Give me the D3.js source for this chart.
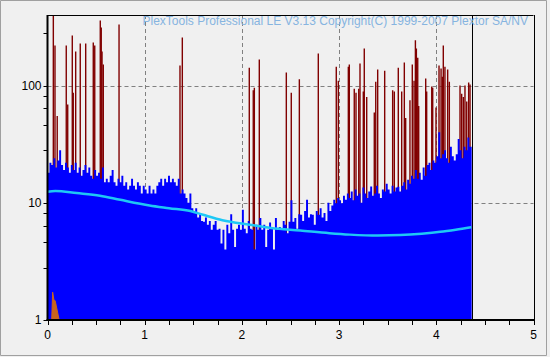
<!DOCTYPE html>
<html><head><meta charset="utf-8">
<script src="https://cdn.jsdelivr.net/npm/d3@7"></script>
<style>body{margin:0;background:#f0f0f0;} svg{display:block}</style>
</head><body><svg id="c" width="550" height="357"></svg>
<script>
const xTicks=[0,1,2,3,4,5];
const xMinorTicks=[0.25,0.5,0.75,1.25,1.5,1.75,2.25,2.5,2.75,3.25,3.5,3.75,4.25,4.5,4.75];
const yLabelTicks=[1,10,100];
const yMinorTicks=[2.8,4.6,6.4,8.2,28,46,64,82,280];
const titleText="PlexTools Professional LE V3.13 Copyright(C) 1999-2007 Plextor SA/NV";
const dataEnd=4.364;
const blueStep=0.02;
const blueValues=[
18,22,21,24,20, 23,28,21,19,22, 20,18,21,19,22, 18,20,17,19,21, 18,20,17,16,19,
17,18,16,20,15, 16,15,17,19,15, 14,16,15,17,14, 15,13,14,16,14, 13,15,14,12,14,
13,12,14,12,13, 12,14,15,16,14, 16,15,17,15,16, 15,14,16,12,13, 12,11,10,12,9,
8.5,9,7.5,8,7, 6.9,7.5,6.5,7,5.9, 6.5,7,5.9,6,4.5, 5.9,4,6.5,5.5,8, 5.9,4.2,6,6.5,5.9,
8.7,6,5.5,7,6, 5.9,4,6.5,5.9,7.4, 5.9,6.5,4.2,5.9,6.8, 6,4,7.4,5.9,6.2, 5.9,7,6.5,5.5,6.9,
10.5,6.9,7.4,6,8, 7.9,7,8.5,10.6,7.5, 8,7.9,6.5,8.5,7.9, 9,7.5,8.2,7,10, 8.5,9.5,10.6,9.9,11,
10.5,9.9,11.5,10.6,12, 11,12.5,10.5,13,11.5, 12,10,13.5,12,11, 12.5,13.8,11.5,12,14, 12,11,13,12.5,14.5,
13,12,14,12.5,13.5, 13.7,12.5,14,15,13, 15.7,14.5,17,16,19, 16,18,15.7,20,17, 21,22,19,23,22,
25,40,24,26,28, 24,22,30,25,23, 26,35,28,24,30, 28,36,30
];
const redX=[0.06,0.077,0.10,0.193,0.208,0.255,0.265,0.29,0.337,0.393,0.471,0.486,0.543,0.553,0.561,0.574,0.736,1.363,1.387,
2.076,2.117,2.128,2.179,2.457,2.508,2.591,2.786,2.971,2.992,3.095,3.105,3.156,3.174,3.202,3.215,3.249,3.259,3.284,
3.362,3.377,3.397,3.469,3.551,3.568,3.609,3.644,3.671,3.685,3.729,3.753,3.771,3.785,3.795,3.809,3.819,3.891,3.901,
3.953,3.963,3.997,4.028,4.049,4.062,4.072,4.089,4.117,4.134,4.244,4.261,4.278,4.295,4.313,4.333,4.347];
const redValues=[420,220,55,220,69,267,87,195,228,228,233,220,359,313,195,151,332,148,257,
142,91,96,167,129,87,113,188,145,110,145,151,94,87,94,154,89,207,80,
59,108,137,134,91,89,142,89,157,53,75,151,110,243,207,173,67,115,89,
98,96,65,148,140,119,220,145,137,108,100,85,80,100,73,106,102];
const avgX=[0,0.08,0.3,0.54,0.75,1.05,1.25,1.47,1.6,1.8,2.08,2.3,2.6,2.9,3.11,3.4,3.63,3.85,4.04,4.2,4.36];
const avgValues=[12.4,12.6,12.1,11.5,10.6,9.5,9.0,8.5,7.9,7.1,6.5,6.1,5.8,5.5,5.35,5.25,5.3,5.45,5.65,5.9,6.2];
const orangeX=[0.043,0.053,0.065,0.08,0.12];
const orangeValues=[1,1.73,1.5,1.45,1];

const svg=d3.select("#c");
const x=d3.scaleLinear().domain([0,5]).range([47.5,533.5]);
const y=d3.scaleLog().domain([1,400]).range([320,15]);
const L=x(0),R=x(5),T=y(400),B=y(1);

// outer frame
svg.append("rect").attr("x",0).attr("y",0).attr("width",550).attr("height",357).attr("fill","#f0f0f0");
svg.append("path").attr("d","M0.5,0.5H546.5V355.5H0.5Z").attr("fill","none").attr("stroke","#a0a0a0");

svg.append("defs").append("clipPath").attr("id","pc").append("rect")
  .attr("x",L).attr("y",T).attr("width",R-L).attr("height",B-T);

// grid
const g=svg.append("g").attr("stroke","#808080").attr("stroke-dasharray","4,3").attr("stroke-width",1);
[1,2,3,4].forEach(v=>g.append("line").attr("x1",Math.round(x(v))+0.5).attr("x2",Math.round(x(v))+0.5).attr("y1",T).attr("y2",B));
[10,100].forEach(v=>g.append("line").attr("x1",L).attr("x2",R).attr("y1",Math.round(y(v))+0.5).attr("y2",Math.round(y(v))+0.5));

const plot=svg.append("g").attr("clip-path","url(#pc)");
// red spikes
plot.append("g").selectAll("line").data(redX).join("line")
  .attr("x1",d=>x(d)).attr("x2",d=>x(d)).attr("y1",B).attr("y2",(d,i)=>y(redValues[i]))
  .attr("stroke","#800000").attr("stroke-width",1.4);
// blue
const bluePts=blueValues.map((v,i)=>[i*blueStep,v]);
bluePts.push([dataEnd,blueValues[blueValues.length-1]]);
plot.append("path").datum(bluePts)
  .attr("d",d3.area().x(d=>x(d[0])).y0(B).y1(d=>y(d[1])).curve(d3.curveStepAfter))
  .attr("fill","#0000ff");
// orange
plot.append("path").datum(orangeX.map((v,i)=>[v,orangeValues[i]]))
  .attr("d",d3.area().x(d=>x(d[0])).y0(B).y1(d=>y(d[1])))
  .attr("fill","#c8641e").attr("stroke","#c8641e").attr("stroke-width",1);
// average line
plot.append("path").datum(avgX.map((v,i)=>[v,avgValues[i]]))
  .attr("d",d3.line().x(d=>x(d[0])).y(d=>y(d[1])).curve(d3.curveMonotoneX))
  .attr("fill","none").attr("stroke","#1ec8f5").attr("stroke-width",2.5);

// end marker
svg.append("line").attr("x1",Math.round(x(dataEnd))+0.5).attr("x2",Math.round(x(dataEnd))+0.5).attr("y1",T).attr("y2",B).attr("stroke","#000");

// border
svg.append("line").attr("x1",L).attr("x2",R).attr("y1",T+0.5).attr("y2",T+0.5).attr("stroke","#000");
svg.append("line").attr("x1",Math.round(R)+0.5).attr("x2",Math.round(R)+0.5).attr("y1",T).attr("y2",B).attr("stroke","#000");
svg.append("line").attr("x1",L).attr("x2",L).attr("y1",T).attr("y2",B+1).attr("stroke","#000").attr("stroke-width",2);
svg.append("line").attr("x1",L-1).attr("x2",R+1).attr("y1",B).attr("y2",B).attr("stroke","#000").attr("stroke-width",2);

// x ticks
const tk=svg.append("g").attr("stroke","#000").attr("stroke-width",1);
xTicks.concat(xMinorTicks).forEach(v=>tk.append("line").attr("x1",Math.round(x(v))+0.5).attr("x2",Math.round(x(v))+0.5).attr("y1",B).attr("y2",B+5));
yLabelTicks.concat(yMinorTicks).forEach(v=>tk.append("line").attr("x1",L-4).attr("x2",L).attr("y1",Math.round(y(v))+0.5).attr("y2",Math.round(y(v))+0.5));

const font="'Liberation Sans', Arial, sans-serif";
svg.append("g").selectAll("text").data(xTicks).join("text")
  .attr("x",d=>x(d)).attr("y",339).attr("text-anchor","middle")
  .attr("font-family",font).attr("font-size",12).attr("fill","#000").text(d=>d);
svg.append("g").selectAll("text").data(yLabelTicks).join("text")
  .attr("x",L-6).attr("y",d=>y(d)+4).attr("text-anchor","end")
  .attr("font-family",font).attr("font-size",12).attr("fill","#000").text(d=>d);

svg.append("text").attr("x",528).attr("y",25).attr("text-anchor","end")
  .attr("font-family",font).attr("font-size",12).attr("fill","#86b4e0").text(titleText);
</script></body></html>
